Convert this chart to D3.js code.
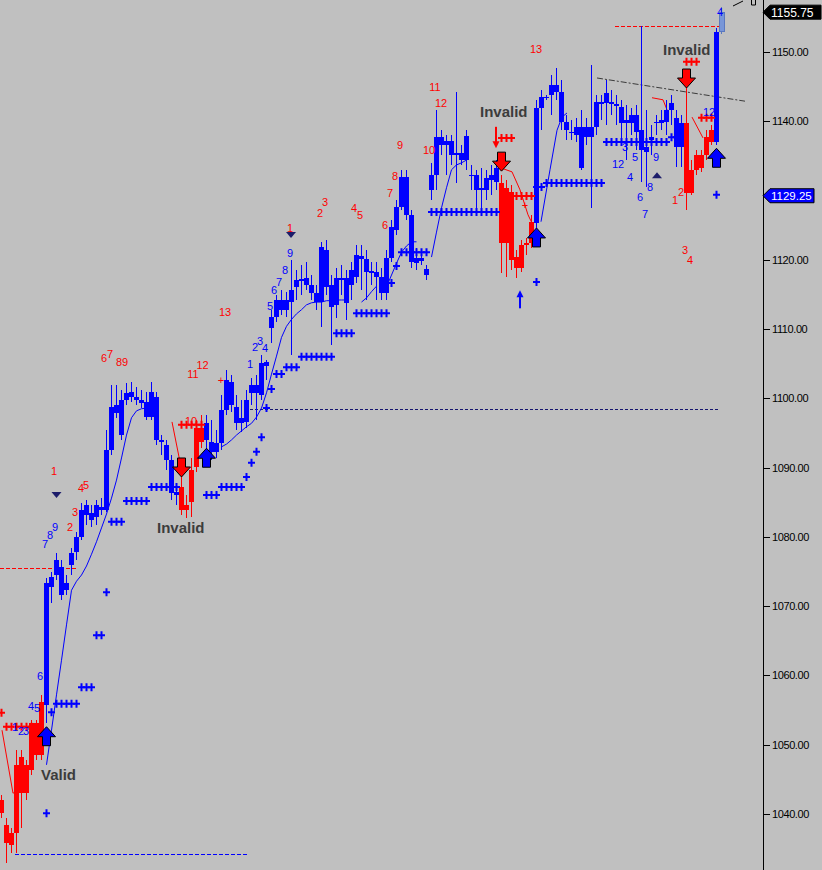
<!DOCTYPE html>
<html><head><meta charset="utf-8">
<script src="https://cdn.jsdelivr.net/npm/d3@7"></script>
<style>html,body{margin:0;padding:0;background:#c0c0c0;overflow:hidden}svg{display:block}</style>
</head><body><svg id="c" width="822" height="870"></svg>
<script>
// ---------- DATA ----------
// OHLC per bar [open, high, low, close]
const candles = [
[1042.0,1042.7,1039.4,1040.1],[1038.4,1039.4,1032.9,1035.8],[1037.3,1038.0,1034.4,1035.5],[1047.1,1049.2,1034.4,1037.3],
[1048.2,1049.2,1038.0,1043.0],[1047.1,1047.8,1042.0,1043.0],[1053.1,1053.6,1045.6,1046.3],[1053.1,1053.6,1047.8,1048.5],
[1056.2,1057.2,1047.8,1048.5],[1055.7,1074.1,1053.1,1073.3],[1072.8,1074.9,1070.5,1074.2],[1074.5,1077.7,1073.8,1076.7],
[1075.7,1076.7,1070.9,1071.6],[1073.3,1074.5,1071.6,1072.3],[1075.9,1078.4,1074.5,1077.7],[1077.8,1080.7,1076.7,1080.0],
[1080.0,1084.9,1079.6,1083.9],[1083.2,1085.3,1081.7,1084.6],[1083.5,1084.6,1081.4,1082.4],[1082.9,1085.3,1081.7,1084.6],
[1083.9,1085.6,1083.2,1084.3],[1083.9,1095.4,1083.6,1092.5],[1092.5,1101.9,1091.8,1098.8],[1097.9,1101.9,1097.2,1099.0],
[1099.8,1101.2,1094.0,1094.7],[1099.8,1102.2,1099.0,1100.8],[1100.2,1102.4,1099.5,1100.9],[1100.2,1101.6,1099.0,1099.8],
[1099.8,1101.2,1098.6,1099.3],[1099.5,1100.9,1096.9,1097.3],[1097.3,1102.4,1096.9,1100.9],[1100.2,1100.9,1093.3,1094.0],
[1094.0,1094.7,1091.8,1093.7],[1093.3,1094.0,1089.7,1091.1],[1091.1,1091.8,1085.3,1086.3],[1086.5,1087.5,1084.6,1086.1],
[1087.2,1089.7,1083.2,1083.9],[1084.6,1086.1,1082.7,1083.9],[1089.7,1091.4,1082.9,1085.0],[1095.7,1096.9,1089.4,1090.1],
[1095.7,1097.6,1092.8,1093.7],[1094.0,1097.6,1092.5,1096.4],[1093.7,1096.9,1091.1,1092.3],[1092.3,1095.4,1091.4,1093.6],
[1093.6,1100.5,1092.5,1098.3],[1098.3,1104.1,1097.6,1102.6],[1102.4,1103.4,1098.0,1099.0],[1098.8,1100.5,1095.4,1096.4],
[1097.2,1099.8,1095.1,1096.4],[1096.6,1101.2,1095.7,1099.8],[1100.8,1102.9,1099.0,1101.9],[1101.9,1103.4,1096.9,1100.8],
[1100.5,1106.3,1099.8,1105.1],[1104.7,1105.5,1102.6,1105.3],[1110.2,1112.8,1108.0,1111.7],[1111.7,1114.9,1111.0,1114.2],
[1112.8,1115.6,1112.0,1114.2],[1114.2,1115.4,1111.7,1112.8],[1113.9,1120.0,1106.3,1115.6],[1116.1,1118.5,1114.2,1117.1],
[1117.2,1119.3,1114.9,1116.9],[1116.4,1119.7,1115.6,1117.4],[1116.4,1117.8,1114.2,1115.2],[1115.2,1116.4,1112.8,1113.9],
[1113.9,1122.6,1110.3,1121.9],[1121.4,1122.9,1114.9,1116.1],[1116.4,1117.8,1107.7,1113.2],[1113.5,1118.8,1111.6,1117.4],
[1117.4,1119.3,1114.9,1117.1],[1117.4,1118.5,1111.3,1113.8],[1116.4,1119.7,1114.2,1118.5],[1117.5,1122.1,1116.7,1120.7],
[1120.6,1122.1,1115.6,1120.1],[1120.1,1121.4,1114.2,1118.2],[1118.4,1119.7,1116.4,1118.1],[1118.2,1119.7,1114.2,1117.5],
[1117.5,1118.8,1114.2,1115.2],[1115.2,1121.4,1114.2,1120.3],[1120.3,1125.8,1119.7,1124.7],[1124.3,1128.6,1123.6,1127.6],
[1127.6,1133.0,1127.2,1132.0],[1132.0,1133.0,1125.8,1126.5],[1126.5,1127.2,1118.8,1119.7],[1120.3,1121.7,1118.5,1119.5],
[1119.8,1121.4,1119.3,1120.3],[1118.7,1119.3,1117.1,1117.8],[1130.1,1134.0,1128.6,1132.2],[1132.2,1141.6,1130.1,1137.7],
[1137.7,1138.7,1135.1,1136.6],[1136.6,1138.0,1132.2,1137.2],[1137.2,1138.0,1133.7,1135.1],[1135.1,1144.2,1131.1,1135.4],
[1135.4,1136.6,1133.7,1134.4],[1134.4,1138.7,1133.0,1137.9],[1132.2,1133.7,1130.1,1132.1],[1132.2,1133.0,1127.2,1130.1],
[1130.1,1133.3,1126.8,1130.4],[1130.1,1133.0,1128.6,1131.8],[1131.5,1133.7,1129.4,1132.2],[1131.2,1134.4,1130.1,1133.3],
[1131.1,1132.2,1118.1,1122.4],[1130.4,1131.5,1117.5,1122.4],[1129.8,1130.8,1118.5,1120.0],[1120.4,1121.4,1117.4,1118.8],
[1122.1,1122.9,1118.2,1118.8],[1122.4,1123.1,1120.7,1122.1],[1125.5,1126.5,1121.7,1122.4],[1125.3,1143.1,1124.6,1141.9],
[1141.9,1144.5,1138.7,1143.5],[1143.5,1143.8,1143.1,1143.4],[1143.8,1146.7,1140.9,1145.2],[1145.2,1147.7,1143.1,1144.2],
[1144.2,1146.0,1138.7,1139.9],[1139.9,1140.9,1137.3,1138.7],[1138.5,1140.2,1137.3,1138.3],[1138.0,1140.5,1137.0,1139.2],
[1139.2,1141.6,1133.0,1133.3],[1137.7,1140.5,1136.6,1139.2],[1139.2,1148.1,1127.5,1137.7],[1139.2,1143.8,1138.0,1142.8],
[1142.8,1143.8,1140.2,1142.5],[1142.6,1146.0,1139.5,1144.1],[1142.8,1144.5,1140.9,1142.5],[1142.5,1143.8,1139.5,1142.2],
[1142.1,1143.1,1137.3,1139.7],[1140.2,1142.4,1134.4,1139.7],[1139.7,1141.9,1138.0,1140.9],[1140.9,1142.4,1135.9,1138.5],
[1138.7,1153.75,1131.2,1135.9],[1136.3,1141.6,1130.5,1135.6],[1137.3,1139.5,1135.1,1137.7],[1139.9,1140.9,1138.0,1139.7],
[1139.7,1141.6,1138.7,1140.2],[1139.9,1143.1,1138.0,1141.6],[1141.6,1143.8,1139.5,1142.6],[1140.5,1141.6,1133.4,1136.3],
[1136.3,1140.9,1133.4,1139.7],[1139.7,1145.7,1127.2,1129.6],[1133.0,1134.4,1129.4,1129.6],[1135.1,1135.9,1132.2,1133.0],
[1135.1,1135.9,1132.7,1133.3],[1137.7,1138.7,1134.4,1135.1],[1138.7,1139.5,1136.6,1137.0],[1137.0,1153.5,1136.6,1152.9],
[1152.9,1156.5,1152.6,1155.75]
];
// paint-bar state per bar: R = down trend, B = up trend, C = current bar
const trend = ("RRRRRRRRR" + "BBBBBBBBBBBBBBBBBBBBBBBBBBB" + "RRRRR" +
  "BBBBBBBBBBBBBBBBBBBBBBBBBBBBBBBBBBBBBBBBBBBBBBBBBBBBBBBBBBB" + "RRRRRRR" +
  "BBBBBBBBBBBBBBBBBBBBBBBBBBBBBB" + "RRRRRR" + "B" + "C").split("");

// right-axis labels (1130 is covered by the stop-price box)
const priceTicks = [1040,1050,1060,1070,1080,1090,1100,1110,1120,1140,1150];
const lastPrice = 1155.75;
const stopPrice = 1129.25;

// support / resistance "+" rows: [first bar, count, price]
const bluePlus = [
[9,1,1040.1],[10,1,1054.7],[11,5,1055.9],[16,3,1058.3],[19,2,1065.8],[21,1,1072.0],
[22,3,1082.2],[25,5,1085.2],[30,6,1087.2],[41,3,1086.05],[44,5,1087.2],[49,1,1088.65],
[50,1,1090.7],[51,1,1092.3],[52,1,1094.4],[53,1,1098.6],[54,1,1101.35],[55,2,1103.5],
[57,3,1104.5],[60,7,1106.0],[67,4,1109.4],[71,7,1112.3],[78,1,1116.65],[79,1,1119.1],
[80,6,1121.1],[86,14,1126.9],[107,2,1130.5],[109,12,1131.1],[121,13,1137.0],[134,2,1137.7],
[107,1,1116.8],[143,1,1129.4]
];
const redPlus = [
[0,1,1054.6],[1,6,1052.6],[36,5,1096.2],[100,3,1137.6],[103,4,1129.2],[137,3,1148.6],[140,3,1140.5]
];

// thin trailing lines: segments of [bar, price]
const trailBlue = [
 [[9,1047.1],[10,1052.1],[11,1057.2],[12,1062.2],[13,1067.3],[14,1072.3],[15,1073.6],[16,1074.5],[17,1075.8],[18,1077.5],[19,1079.3],[20,1081.3],[21,1083.3],[22,1085.6],[23,1088.2],[24,1091.4],[25,1094.7],[26,1097.2],[27,1098.2],[28,1098.5],[29,1098.6]],
 [[44,1093.0],[45,1093.4],[46,1094.0],[47,1094.7],[48,1095.3],[49,1095.9],[50,1096.4],[51,1097.3],[52,1098.6],[53,1100.8],[54,1103.5],[55,1106.1],[56,1108.8],[57,1110.4],[58,1111.4],[59,1112.2],[60,1112.8],[61,1113.5],[62,1113.8],[63,1113.9],[64,1113.9],[65,1114.1],[66,1114.1],[67,1114.2],[68,1114.2],[69,1114.2]],
 [[72,1113.9],[73,1114.5],[74,1115.4],[75,1116.2]],
 [[77,1116.1],[78,1117.8],[79,1119.5],[80,1121.1],[81,1122.0],[82,1122.6],[83,1122.6]],
 [[86,1120.4],[87,1124.0],[88,1127.5],[89,1130.4],[90,1133.0],[91,1133.7],[92,1134.0],[93,1134.4]],
 [[107.9,1125.5],[109.7,1133.0],[111.1,1138.7],[112.1,1140.6],[113.1,1141.2]]
];
const trailRed = [
 [[0.1,1052.1],[2.3,1043.0],[3,1043.3]],
 [[34.1,1096.6],[35.9,1090.1]],
 [[99.7,1133.3],[102.1,1132.7],[103.7,1130.1],[105.3,1126.5],[106.3,1125.0]],
 [[130.1,1143.4],[132.3,1143.1],[133.3,1141.3]],
 [[138.1,1140.6],[140.3,1137.6]]
];

// horizontal level lines: [from bar, to bar, price, kind]
const levels = [
 [-0.3,15.3,1075.5,"R"],[2.7,49.3,1034.2,"B"],[49.7,143.3,1098.5,"N"],[122.7,143.7,1153.75,"R"]
];
const trendLine = [[119.1,1146.25],[148.7,1142.9]];

// signal arrows: [bar, tip price]
const buyArrows = [[9,1052.6],[41,1092.8],[107,1124.6],[143,1136.1]];
const sellArrows = [[36,1088.65],[100,1132.8],[137,1144.8]];
const thinSell = [[98.9,1139.2,1136.1]];   // bar, top, tip
const thinBuy = [[103.7,1113.0,1115.6]];   // bar, bottom, tip

// count labels: [bar, baseline price, text]
const redCounts = [
[10.5,1088.9,"1"],[15.9,1086.5,"4"],[16.9,1086.9,"5"],[14.7,1083.0,"3"],[13.7,1080.9,"2"],
[20.5,1105.25,"6"],[21.7,1105.8,"7"],[23.5,1104.7,"8"],[24.7,1104.7,"9"],[38.3,1103.0,"11"],[40.2,1104.3,"12"],
[37.9,1096.2,"10"],[44.7,1111.9,"13"],[57.7,1124.0,"1"],[63.7,1126.2,"2"],[64.7,1127.8,"3"],[70.5,1126.9,"4"],
[71.7,1125.9,"5"],[76.7,1124.4,"6"],[77.7,1129.1,"7"],[78.7,1131.5,"8"],[79.7,1136.0,"9"],[85.5,1135.3,"10"],
[86.7,1144.4,"11"],[87.9,1142.1,"12"],[106.9,1149.9,"13"],[134.7,1128.1,"1"],[135.9,1129.2,"2"],
[136.7,1120.8,"3"],[137.7,1119.4,"4"],[43.9,1102.1,"+"],[104.7,1127.3,"+"]
];
const blueCounts = [
[8.7,1078.4,"7"],[9.7,1079.7,"8"],[10.7,1080.9,"9"],[7.7,1059.4,"6"],[5.9,1055.0,"4"],[7.1,1054.7,"5"],
[2.7,1052.0,"1"],[3.9,1051.4,"2"],[4.9,1051.4,"3"],[49.7,1104.4,"1"],[50.7,1106.8,"2"],[51.7,1107.7,"3"],
[52.7,1106.7,"4"],[53.7,1112.75,"5"],[54.5,1115.1,"6"],[55.5,1116.2,"7"],[56.7,1118.0,"8"],[57.7,1120.4,"9"],
[123.3,1133.3,"12"],[124.7,1135.7,"3"],[125.7,1131.4,"4"],[126.7,1134.3,"5"],[127.7,1128.5,"6"],
[128.7,1126.0,"7"],[129.7,1129.9,"8"],[130.9,1134.3,"9"],[141.5,1140.8,"12"],[143.7,1155.2,"4"]
];
// small triangles: [bar, price, dir]
const triangles = [[11.0,1086.05,"down"],[57.9,1123.6,"down"],[131.1,1132.2,"up"]];
// text notes: [bar, baseline price, text]
const notes = [[7.9,1044.9,"Valid"],[31.1,1080.6,"Invalid"],[95.7,1140.6,"Invalid"],[132.3,1149.6,"Invalid"]];

// ---------- DRAW ----------
const svg = d3.select("#c");
const W = 822, H = 870, axisX = 763;
const x = d3.scaleLinear().domain([0,144]).range([1.5,721.5]);
const y = d3.scaleLinear().domain([1040,1150]).range([814,52]);
const col = {R:"#ff0000", B:"#0000ff", C:"#7896d8", N:"#16166e"};
const FONT = "Arial, 'Liberation Sans', sans-serif";

svg.append("rect").attr("width",W).attr("height",H).attr("fill","#c0c0c0");
const plot = svg.append("g");

// level lines
plot.selectAll("line.lvl").data(levels).join("line")
  .attr("x1",d=>x(d[0])).attr("x2",d=>x(d[1]))
  .attr("y1",d=>Math.round(y(d[2]))+0.5).attr("y2",d=>Math.round(y(d[2]))+0.5)
  .attr("stroke",d=>col[d[3]]).attr("stroke-width",1)
  .attr("stroke-dasharray",d=>d[3]==="N"?"3,2":"4,2");

// trend line
plot.append("line")
  .attr("x1",x(trendLine[0][0])).attr("y1",y(trendLine[0][1]))
  .attr("x2",x(trendLine[1][0])).attr("y2",y(trendLine[1][1]))
  .attr("stroke","#3a3a3a").attr("stroke-width",1).attr("stroke-dasharray","6,2,2,2");

// trailing lines
const ln = d3.line().x(d=>x(d[0])).y(d=>y(d[1]));
plot.selectAll("path.tb").data(trailBlue).join("path").attr("d",ln)
  .attr("fill","none").attr("stroke","#0000ff").attr("stroke-width",1);
plot.selectAll("path.tr").data(trailRed).join("path").attr("d",ln)
  .attr("fill","none").attr("stroke","#ff0000").attr("stroke-width",1);

// candles
const cg = plot.append("g").attr("shape-rendering","crispEdges");
candles.forEach((c,i)=>{
  const [o,h,l,cl] = c, k = trend[i], cx = x(i);
  cg.append("line").attr("x1",cx).attr("x2",cx).attr("y1",y(h)).attr("y2",y(l))
    .attr("stroke", k==="C" ? "#5a78c0" : col[k]).attr("stroke-width",1);
  const top = y(Math.max(o,cl)), bot = y(Math.min(o,cl));
  cg.append("rect").attr("x",cx-2.5).attr("width",5)
    .attr("y",top).attr("height",Math.max(1,bot-top))
    .attr("fill",col[k]).attr("stroke",k==="C"?"#5a78c0":"none");
});

// plus rows
function plusRows(rows,color){
  rows.forEach(r=>{
    for(let k=0;k<r[1];k++){
      const cx = x(r[0]+k), cy = y(r[2]);
      plot.append("path").attr("d",`M${cx-3.5},${cy}H${cx+3.5}M${cx},${cy-4}V${cy+4}`)
        .attr("stroke",color).attr("stroke-width",2).attr("fill","none");
    }
  });
}
plusRows(bluePlus,"#0000ff");
plusRows(redPlus,"#ff0000");

// big arrows
function bigArrow(cx,ty,dir,fill){
  const s = dir==="up"?1:-1;
  const pts = [[0,0],[9,10],[4,10],[4,19],[-4,19],[-4,10],[-9,10]]
    .map(p=>[cx+p[0], ty+s*p[1]]);
  plot.append("path").attr("d","M"+pts.map(p=>p.join(",")).join("L")+"Z")
    .attr("fill",fill).attr("stroke","#000").attr("stroke-width",1);
}
buyArrows.forEach(a=>bigArrow(x(a[0]),y(a[1]),"up","#0000ff"));
sellArrows.forEach(a=>bigArrow(x(a[0]),y(a[1]),"down","#ff0000"));

// thin arrows
thinSell.forEach(a=>{
  const cx=x(a[0]), t=y(a[1]), tip=y(a[2]);
  plot.append("rect").attr("x",cx-1).attr("y",t).attr("width",2).attr("height",tip-t-6).attr("fill","#ff0000");
  plot.append("path").attr("d",`M${cx-3.5},${tip-7}L${cx+3.5},${tip-7}L${cx},${tip}Z`).attr("fill","#ff0000");
});
thinBuy.forEach(a=>{
  const cx=x(a[0]), b=y(a[1]), tip=y(a[2]);
  plot.append("rect").attr("x",cx-1).attr("y",tip+6).attr("width",2).attr("height",b-tip-6).attr("fill","#0000ff");
  plot.append("path").attr("d",`M${cx-3.5},${tip+7}L${cx+3.5},${tip+7}L${cx},${tip}Z`).attr("fill","#0000ff");
});

// triangles
triangles.forEach(t=>{
  const cx=x(t[0]), cy=y(t[1]);
  const d = t[2]==="down" ? `M${cx-5},${cy-3}L${cx+5},${cy-3}L${cx},${cy+3}Z` : `M${cx-5},${cy+3}L${cx+5},${cy+3}L${cx},${cy-3}Z`;
  plot.append("path").attr("d",d).attr("fill","#1c1c6a");
});

// counts
function counts(arr,color){
  plot.selectAll(null).data(arr).join("text")
    .attr("x",d=>x(d[0])).attr("y",d=>y(d[1])).attr("text-anchor","middle")
    .attr("font-family",FONT).attr("font-size",11).attr("fill",color).text(d=>d[2]);
}
counts(redCounts,"#ff0000");
counts(blueCounts,"#0000ff");

// notes
plot.selectAll(null).data(notes).join("text")
  .attr("x",d=>x(d[0])).attr("y",d=>y(d[1]))
  .attr("font-family",FONT).attr("font-size",15).attr("font-weight","bold")
  .attr("fill","#3c3c3c").text(d=>d[2]);

// axis
const ag = svg.append("g").attr("transform",`translate(${axisX},0)`);
ag.call(d3.axisRight(y).tickValues(priceTicks).tickSize(7).tickPadding(2).tickFormat(d3.format(".2f")));
ag.select(".domain").remove();
ag.selectAll(".tick line").attr("stroke","#000").attr("shape-rendering","crispEdges");
ag.selectAll(".tick text").attr("fill","#000").attr("font-family",FONT).attr("font-size",11)
  .attr("letter-spacing","-0.4px");
svg.append("line").attr("x1",axisX+0.5).attr("x2",axisX+0.5).attr("y1",0).attr("y2",H)
  .attr("stroke","#000").attr("stroke-width",1);

// price boxes
function priceBox(p,fill,stroke,right,fs){
  const cy = y(p);
  const d = `M${axisX},${cy}L${axisX+7},${cy-7}L${right},${cy-7}L${right},${cy+7}L${axisX+7},${cy+7}Z`;
  svg.append("path").attr("d",d).attr("fill",fill).attr("stroke",stroke).attr("stroke-width",1);
  svg.append("text").attr("x",axisX+8).attr("y",cy+4.5).attr("font-family",FONT).attr("font-size",fs)
    .attr("fill","#fff").text(d3.format(".2f")(p));
}
priceBox(lastPrice,"#000","#000",821,12);
priceBox(stopPrice,"#0000ff","#000",814,11.5);

// small toolbar glyph top-right
svg.append("path").attr("d","M733,6L743,1M751.5,0V5H755.5V0").attr("stroke","#000").attr("fill","none").attr("stroke-width",1);
</script></body></html>
